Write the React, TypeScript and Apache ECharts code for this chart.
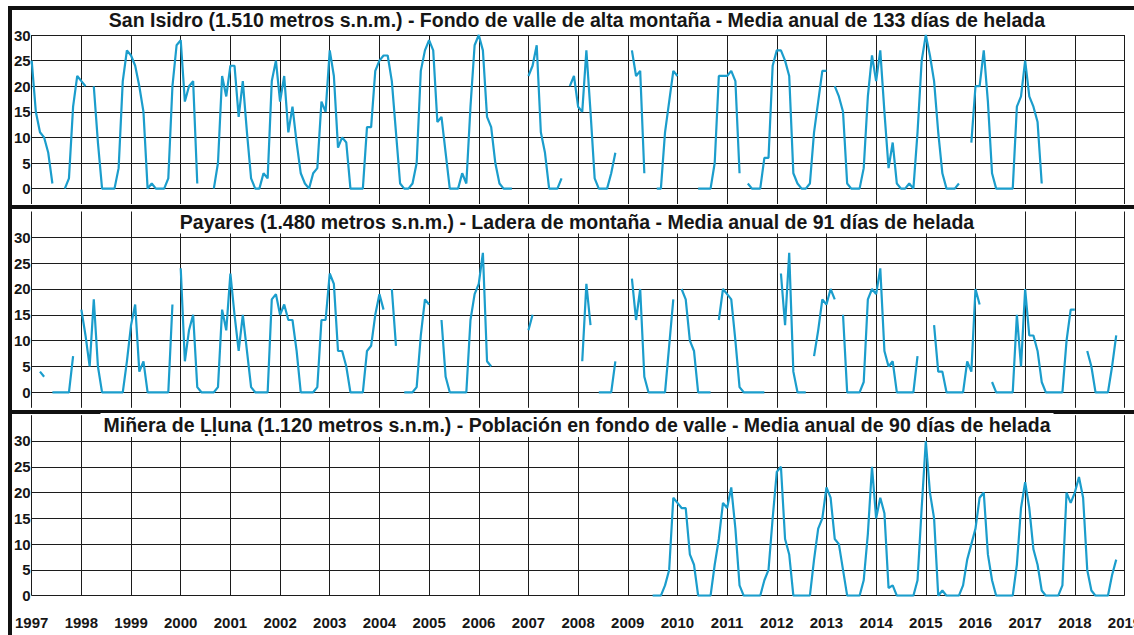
import React, { useEffect, useRef } from 'react';
import * as echarts from 'echarts';

const n = null;
const START_YEAR = 1997;
const END_YEAR = 2019;

const titles = [
  'San Isidro (1.510 metros s.n.m.) - Fondo de valle de alta montaña - Media anual de 133 días de helada',
  'Payares (1.480 metros s.n.m.) - Ladera de montaña - Media anual de 91 días de helada',
  'Miñera de Ḷḷuna (1.120 metros s.n.m.) - Población en fondo de valle - Media anual de 90 días de helada',
];

// Monthly values (Jan..Dec), one row per year 1997..2018
const sanIsidro = [
  /*1997*/ 25, 15, 11, 10, 7, 1, n, n, 0, 2, 16, 22,
  /*1998*/ 21, 20, n, 20, 9, 0, 0, 0, 0, 4, 21, 27,
  /*1999*/ 26, 24, 20, 15, 0, 1, 0, 0, 0, 2, 20, 28,
  /*2000*/ 29, 17, 20, 21, 1, n, n, n, 0, 5, 22, 18,
  /*2001*/ 24, 24, 14, 21, 11, 2, 0, 0, 3, 2, 21, 25,
  /*2002*/ 17, 22, 11, 16, 9, 3, 1, 0, 3, 4, 17, 15,
  /*2003*/ 27, 22, 8, 10, 9, 0, 0, 0, 0, 12, 12, 23,
  /*2004*/ 25, 26, 26, 21, 11, 1, 0, 0, 1, 5, 23, 27,
  /*2005*/ 29, 27, 13, 14, 7, 0, 0, 0, 3, 1, 16, 28,
  /*2006*/ 30, 27, 14, 12, 5, 1, 0, 0, 0, n, n, n,
  /*2007*/ 22, 24, 28, 11, 7, 0, 0, 0, 2, n, 20, 22,
  /*2008*/ 16, 15, 27, 15, 2, 0, 0, 0, 3, 7, n, n,
  /*2009*/ n, 27, 22, 23, 3, n, n, 0, 0, 11, 17, 23,
  /*2010*/ 22, n, n, n, n, 0, 0, 0, 0, 5, 22, 22,
  /*2011*/ 22, 23, 21, 3, n, 1, 0, 0, 0, 6, 6, 24,
  /*2012*/ 27, 27, 25, 22, 3, 1, 0, 0, 1, 11, 17, 23,
  /*2013*/ 23, n, 20, 18, 15, 1, 0, 0, 0, 4, 18, 26,
  /*2014*/ 21, 27, 15, 4, 9, 1, 0, 0, 1, 0, 11, 25,
  /*2015*/ 30, 26, 21, 11, 3, 0, 0, 0, 1, n, n, 9,
  /*2016*/ 20, 20, 27, 17, 3, 0, 0, 0, 0, 0, 16, 18,
  /*2017*/ 25, 18, 16, 13, 1, n, n, n, n, n, n, n,
  /*2018*/ n, n, n, n, n, n, n, n, n, n, n, n,
];

const payares = [
  /*1997*/ n, n, 4, 3, n, 0, 0, 0, 0, 0, 7, n,
  /*1998*/ 16, 11, 5, 18, 5, 0, 0, 0, 0, 0, 0, 6,
  /*1999*/ 13, 17, 4, 6, 0, 0, 0, 0, 0, 0, 17, n,
  /*2000*/ 24, 6, 12, 15, 1, 0, 0, 0, 0, 1, 16, 12,
  /*2001*/ 23, 15, 8, 15, 8, 1, 0, 0, 0, 0, 18, 19,
  /*2002*/ 15, 17, 14, 14, 8, 0, 0, 0, 0, 1, 14, 14,
  /*2003*/ 23, 21, 8, 8, 5, 0, 0, 0, 0, 8, 9, 15,
  /*2004*/ 19, 16, n, 20, 9, n, 0, 0, 0, 1, 11, 18,
  /*2005*/ 17, n, n, 14, 3, 0, 0, 0, 0, 0, 14, 19,
  /*2006*/ 21, 27, 6, 5, n, n, n, n, n, n, n, n,
  /*2007*/ 12, 15, n, n, n, n, n, n, n, n, n, n,
  /*2008*/ n, 6, 21, 13, n, 0, 0, 0, 0, 6, n, n,
  /*2009*/ n, 22, 14, 20, 3, 0, 0, 0, 0, 0, 9, 18,
  /*2010*/ n, 20, 18, 10, 8, 0, 0, 0, 0, n, 14, 20,
  /*2011*/ 19, 18, 10, 1, 0, 0, 0, 0, 0, 0, n, n,
  /*2012*/ n, 23, 13, 27, 4, 0, 0, 0, n, 7, 12, 18,
  /*2013*/ 17, 20, 18, n, 15, 0, 0, 0, 0, 2, 18, 20,
  /*2014*/ 19, 24, 8, 5, 6, 0, 0, 0, 0, 0, 7, n,
  /*2015*/ n, n, 13, 4, 4, 0, 0, 0, 0, 0, 6, 4,
  /*2016*/ 20, 17, n, n, 2, 0, 0, 0, 0, 0, 15, 5,
  /*2017*/ 20, 11, 11, 8, 2, 0, 0, 0, 0, 0, 10, 16,
  /*2018*/ 16, n, n, 8, 5, 0, 0, 0, 0, 5, 11, n,
];

const minera = [
  /*1997*/ n, n, n, n, n, n, n, n, n, n, n, n,
  /*1998*/ n, n, n, n, n, n, n, n, n, n, n, n,
  /*1999*/ n, n, n, n, n, n, n, n, n, n, n, n,
  /*2000*/ n, n, n, n, n, n, n, n, n, n, n, n,
  /*2001*/ n, n, n, n, n, n, n, n, n, n, n, n,
  /*2002*/ n, n, n, n, n, n, n, n, n, n, n, n,
  /*2003*/ n, n, n, n, n, n, n, n, n, n, n, n,
  /*2004*/ n, n, n, n, n, n, n, n, n, n, n, n,
  /*2005*/ n, n, n, n, n, n, n, n, n, n, n, n,
  /*2006*/ n, n, n, n, n, n, n, n, n, n, n, n,
  /*2007*/ n, n, n, n, n, n, n, n, n, n, n, n,
  /*2008*/ n, n, n, n, n, n, n, n, n, n, n, n,
  /*2009*/ n, n, n, n, n, n, 0, 0, 0, 2, 5, 19,
  /*2010*/ 18, 17, 17, 8, 6, 0, 0, 0, 0, 6, 11, 18,
  /*2011*/ 17, 21, 13, 2, 0, 0, 0, 0, 0, 3, 5, 15,
  /*2012*/ 24, 25, 11, 8, 0, 0, 0, 0, 0, 7, 13, 15,
  /*2013*/ 21, 19, 11, 10, 5, 0, 0, 0, 0, 3, 12, 25,
  /*2014*/ 15, 19, 16, 1.5, 2, 0, 0, 0, 0, 0, 3, 17,
  /*2015*/ 30, 20, 15, 0, 1, 0, 0, 0, 0, 2, 7, 10,
  /*2016*/ 13, 19, 20, 8, 3, 0, 0, 0, 0, 0, 6, 17,
  /*2017*/ 22, 17, 9, 6, 1, 0, 0, 0, 0, 2, 20, 18,
  /*2018*/ 20, 23, 19, 5, 1, 0, 0, 0, 0, 4, 7, n,
];

const FONT = '"Liberation Sans", Arial, Helvetica, sans-serif';
const LINE_COLOR = '#1b9dcc';
const GRID_COLOR = '#1c1c1c';
const TEXT_COLOR = '#161616';

function toPoints(arr: (number | null)[]) {
  return arr.map((v, i) => [START_YEAR + i / 12, v === null ? '-' : v]);
}

export default function App() {
  const ref = useRef<HTMLDivElement>(null);

  useEffect(() => {
    if (!ref.current) return;
    const chart = echarts.init(ref.current, undefined, { renderer: 'svg' });

    const gridBase = { left: 31.7, right: 9.5, containLabel: false, outerBoundsMode: 'none' };
    const grids = [
      { ...gridBase, top: 35, height: 169 },
      { ...gridBase, top: 211.5, height: 196.3 },
      { ...gridBase, top: 415.2, height: 180.5 },
    ];
    const yRanges = [
      { min: -3, max: 30, showMin: false, showMax: true },
      { min: -3, max: 35, showMin: false, showMax: false },
      { min: 0, max: 35, showMin: true, showMax: false },
    ];

    const xAxes = [0, 1, 2].map((g) => ({
      type: 'value',
      gridIndex: g,
      min: START_YEAR,
      max: END_YEAR,
      interval: 1,
      axisLine: { show: false },
      axisTick: { show: false },
      axisLabel: {
        show: g === 2,
        fontSize: 15,
        fontWeight: 'bold',
        fontFamily: FONT,
        color: TEXT_COLOR,
        margin: 19,
        showMinLabel: true,
        showMaxLabel: true,
        hideOverlap: false,
        formatter: (v: number) => String(Math.round(v)),
      },
      splitLine: { show: true, lineStyle: { color: GRID_COLOR, width: 1 } },
    }));

    const yAxes = yRanges.map((r, g) => ({
      type: 'value',
      gridIndex: g,
      min: r.min,
      max: r.max,
      splitNumber: 6,
      minInterval: 5,
      maxInterval: 5,
      axisLine: { show: false },
      axisTick: { show: false },
      axisLabel: {
        fontSize: 15,
        fontWeight: 'bold',
        fontFamily: FONT,
        color: TEXT_COLOR,
        margin: 1,
        showMinLabel: r.showMin,
        showMaxLabel: r.showMax,
      },
      splitLine: {
        show: true,
        showMinLine: r.showMin,
        showMaxLine: r.showMax,
        lineStyle: { color: GRID_COLOR, width: 1 },
      },
    }));

    const seriesData = [sanIsidro, payares, minera];
    const series = seriesData.map((arr, g) => ({
      type: 'line',
      xAxisIndex: g,
      yAxisIndex: g,
      data: toPoints(arr),
      showSymbol: false,
      connectNulls: false,
      lineStyle: { color: LINE_COLOR, width: 2.2 },
      itemStyle: { color: LINE_COLOR },
      z: 3,
    }));

    const bar = (x: number, y: number, w: number, h: number) => ({
      type: 'rect',
      shape: { x, y, width: w, height: h },
      style: { fill: '#111' },
      z: 100,
    });
    const title = (i: number, y: number, box: boolean) => ({
      type: 'text',
      x: 577,
      y,
      z: 101,
      style: {
        text: titles[i],
        fontSize: 19.5,
        fontWeight: 'bold',
        fontFamily: FONT,
        fill: TEXT_COLOR,
        align: 'center',
        verticalAlign: 'middle',
        backgroundColor: box ? '#ffffff' : 'transparent',
        padding: box ? [2, 3] : 0,
      },
    });

    chart.setOption({
      animation: false,
      backgroundColor: '#ffffff',
      grid: grids,
      xAxis: xAxes,
      yAxis: yAxes,
      series,
      graphic: [
        bar(8, 6, 1126, 4),
        bar(8, 6, 4, 629),
        bar(8, 205, 1126, 4),
        bar(8, 410, 1126, 4),
        title(0, 20, false),
        title(1, 221.5, true),
        title(2, 425, true),
      ],
    });

    return () => chart.dispose();
  }, []);

  return (
    <div
      ref={ref}
      style={{ position: 'fixed', left: 0, top: 0, width: 1134, height: 635, background: '#fff' }}
    />
  );
}
